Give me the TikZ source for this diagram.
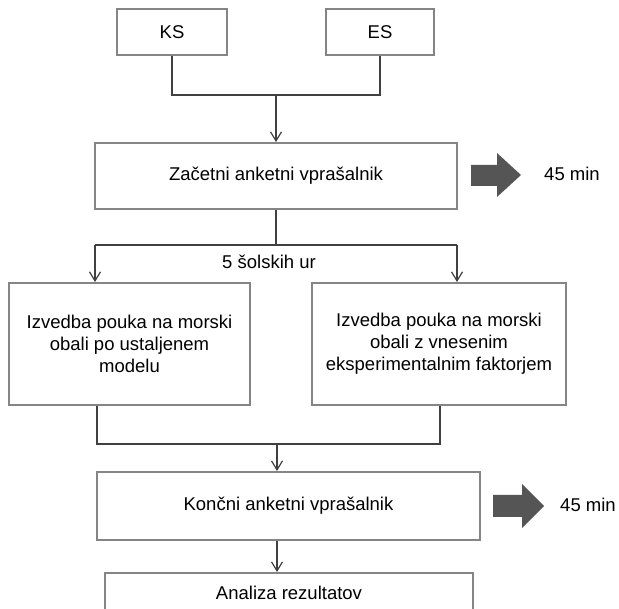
\documentclass[tikz,border=0pt]{standalone}
\usepackage{fontspec}
\setmainfont{Liberation Sans}
\usetikzlibrary{arrows.meta}
\definecolor{boxgray}{HTML}{858585}
\definecolor{linegray}{HTML}{404040}
\definecolor{fatgray}{HTML}{555555}
\begin{document}
\begin{tikzpicture}[x=1pt,y=-1pt,
  box/.style={draw=boxgray, line width=2pt, fill=white, inner sep=0pt, align=center,
              font=\fontsize{18.5}{22}\selectfont},
  conn/.style={draw=linegray, line width=1.4pt},
  arr/.style={conn, -{Straight Barb[length=9pt,width=11pt,line width=1.2pt]}},
  lbl/.style={font=\fontsize{18.5}{22}\selectfont, inner sep=0pt},
  fat/.style={fill=fatgray}]
\useasboundingbox[fill=white] (0,0) rectangle (619,609);

% boxes
\node[box, minimum width=110pt, minimum height=46pt] (KS) at (172,32) {KS};
\node[box, minimum width=108pt, minimum height=46pt] (ES) at (380,32) {ES};
\node[box, minimum width=362pt, minimum height=66pt] (Z) at (276,176) {Začetni anketni vprašalnik};
\node[box, minimum width=241pt, minimum height=122pt] (L) at (129.5,344)
  {Izvedba pouka na morski\\obali po ustaljenem\\modelu};
\node[box, minimum width=254pt, minimum height=122pt] (R) at (439,344)
  {Izvedba pouka na morski\\obali z vnesenim\\eksperimentalnim faktorjem};
\node[box, minimum width=383pt, minimum height=68pt] (K) at (288.5,506) {Končni anketni vprašalnik};
\node[box, minimum width=368pt, minimum height=40pt] (A) at (289,593) {Analiza rezultatov};

% labels
\node[lbl] (h1) at (572,174) {45 min};
\node[lbl] (h2) at (588,505) {45 min};
\node[lbl] (s5) at (269,262) {5 šolskih ur};

% fat arrows
\fill[fat] (471,165) -- (497,165) -- (497,153) -- (521,175) -- (497,197) -- (497,186) -- (471,186) -- cycle;
\fill[fat] (493,495) -- (522,495) -- (522,484) -- (544,506) -- (522,528) -- (522,517) -- (493,517) -- cycle;

% junction coordinates
\coordinate (j1) at (276,95);
\coordinate (j2) at (276,245);
\coordinate (la) at (95,245);
\coordinate (ra) at (457,245);
\coordinate (lb) at (97,444);
\coordinate (rb) at (440,444);
\coordinate (j3) at (277,444);

% connectors
\draw[conn] (KS.south) |- (j1) -| (ES.south);
\draw[arr] (j1) -- (Z.north);
\draw[conn] (Z.south) -- (j2);
\draw[conn] (la) -- (ra);
\draw[arr] (la) -- (la |- L.north);
\draw[arr] (ra) -- (ra |- R.north);
\draw[conn] (L.south -| lb) -- (lb) -- (rb) -- (R.south -| rb);
\draw[arr] (j3) -- (j3 |- K.north);
\draw[arr] (K.south -| j3) -- (A.north -| j3);
\end{tikzpicture}
\end{document}
